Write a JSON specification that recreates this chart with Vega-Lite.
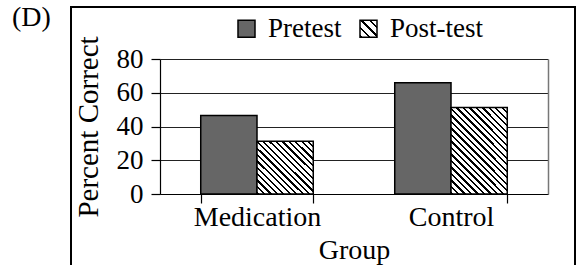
{
  "$schema": "https://vega.github.io/schema/vega-lite/v6.json",
  "width": 504,
  "height": 262,
  "autosize": {"type": "none"},
  "padding": {"left": 71, "top": 7, "right": 2, "bottom": -4},
  "background": "white",
  "config": {
    "font": "Liberation Serif",
    "view": {"stroke": "black", "strokeWidth": 2}
  },
  "title": {
    "text": "(D)",
    "anchor": "start",
    "frame": "group",
    "dx": -59,
    "dy": 47,
    "offset": 0,
    "font": "Liberation Serif",
    "fontSize": 28,
    "fontWeight": "normal",
    "color": "black",
    "baseline": "alphabetic"
  },
  "data": {
    "values": [
      {"group": "Medication", "series": "Pretest", "value": 46.5},
      {"group": "Medication", "series": "Post-test", "value": 31.2},
      {"group": "Control", "series": "Pretest", "value": 66},
      {"group": "Control", "series": "Post-test", "value": 51.2}
    ]
  },
  "layer": [
    {
      "mark": {"type": "bar", "stroke": "black", "strokeWidth": 1.5},
      "encoding": {
        "x": {
          "field": "group",
          "type": "nominal",
          "sort": ["Medication", "Control"],
          "scale": {"range": [89, 477], "paddingInner": 0.42, "paddingOuter": 0.21},
          "axis": {
            "orient": "bottom",
            "offset": -75,
            "tickBand": "extent",
            "tickSize": 9,
            "tickColor": "black",
            "tickWidth": 1.2,
            "domainColor": "black",
            "domainWidth": 1.2,
            "grid": false,
            "labelAngle": 0,
            "labelFont": "Liberation Serif",
            "labelFontSize": 28,
            "labelColor": "black",
            "labelPadding": 0,
            "title": "Group",
            "titleFont": "Liberation Serif",
            "titleFontSize": 28,
            "titleFontWeight": "normal",
            "titleColor": "black",
            "titlePadding": 5
          }
        },
        "xOffset": {
          "field": "series",
          "type": "nominal",
          "sort": ["Pretest", "Post-test"],
          "scale": {"paddingInner": 0, "paddingOuter": 0}
        },
        "y": {
          "field": "value",
          "type": "quantitative",
          "scale": {"domain": [0, 80], "range": [187, 52], "nice": false},
          "axis": {
            "orient": "left",
            "offset": -89,
            "values": [0, 20, 40, 60, 80],
            "grid": true,
            "gridColor": "#222222",
            "gridWidth": 1.2,
            "domainColor": "black",
            "domainWidth": 1.2,
            "tickColor": "black",
            "tickSize": 9,
            "tickWidth": 1.2,
            "labelFont": "Liberation Serif",
            "labelFontSize": 27,
            "labelColor": "black",
            "labelPadding": 8,
            "title": "Percent Correct",
            "titleFont": "Liberation Serif",
            "titleFontSize": 29,
            "titleFontWeight": "normal",
            "titleColor": "black",
            "titlePadding": 13
          }
        },
        "fill": {
          "field": "series",
          "type": "nominal",
          "scale": {
            "domain": ["Pretest", "Post-test"],
            "range": [
              "#666666",
              {"expr": "{gradient: 'linear', x1: 0, y1: 1, x2: 1, y2: 0, stops: [{offset: 0, color: 'black'}, {offset: 0.075, color: 'black'}, {offset: 0.075, color: 'white'}, {offset: 0.25, color: 'white'}, {offset: 0.25, color: 'black'}, {offset: 0.325, color: 'black'}, {offset: 0.325, color: 'white'}, {offset: 0.5, color: 'white'}, {offset: 0.5, color: 'black'}, {offset: 0.575, color: 'black'}, {offset: 0.575, color: 'white'}, {offset: 0.75, color: 'white'}, {offset: 0.75, color: 'black'}, {offset: 0.825, color: 'black'}, {offset: 0.825, color: 'white'}, {offset: 1, color: 'white'}]}"}
            ]
          },
          "condition": [
            {
              "test": "datum.series === 'Post-test' && datum.group === 'Control'",
              "value": {
                "gradient": "linear", "x1": 0, "y1": 1, "x2": 0.758, "y2": -0.158,
                "stops": [
                  {"offset": 0, "color": "black"}, {"offset": 0.0159, "color": "black"}, {"offset": 0.0159, "color": "white"}, {"offset": 0.0455, "color": "white"},
                  {"offset": 0.0455, "color": "black"}, {"offset": 0.0614, "color": "black"}, {"offset": 0.0614, "color": "white"}, {"offset": 0.0909, "color": "white"},
                  {"offset": 0.0909, "color": "black"}, {"offset": 0.1068, "color": "black"}, {"offset": 0.1068, "color": "white"}, {"offset": 0.1364, "color": "white"},
                  {"offset": 0.1364, "color": "black"}, {"offset": 0.1523, "color": "black"}, {"offset": 0.1523, "color": "white"}, {"offset": 0.1818, "color": "white"},
                  {"offset": 0.1818, "color": "black"}, {"offset": 0.1977, "color": "black"}, {"offset": 0.1977, "color": "white"}, {"offset": 0.2273, "color": "white"},
                  {"offset": 0.2273, "color": "black"}, {"offset": 0.2432, "color": "black"}, {"offset": 0.2432, "color": "white"}, {"offset": 0.2727, "color": "white"},
                  {"offset": 0.2727, "color": "black"}, {"offset": 0.2886, "color": "black"}, {"offset": 0.2886, "color": "white"}, {"offset": 0.3182, "color": "white"},
                  {"offset": 0.3182, "color": "black"}, {"offset": 0.3341, "color": "black"}, {"offset": 0.3341, "color": "white"}, {"offset": 0.3636, "color": "white"},
                  {"offset": 0.3636, "color": "black"}, {"offset": 0.3795, "color": "black"}, {"offset": 0.3795, "color": "white"}, {"offset": 0.4091, "color": "white"},
                  {"offset": 0.4091, "color": "black"}, {"offset": 0.4250, "color": "black"}, {"offset": 0.4250, "color": "white"}, {"offset": 0.4545, "color": "white"},
                  {"offset": 0.4545, "color": "black"}, {"offset": 0.4704, "color": "black"}, {"offset": 0.4704, "color": "white"}, {"offset": 0.5000, "color": "white"},
                  {"offset": 0.5000, "color": "black"}, {"offset": 0.5159, "color": "black"}, {"offset": 0.5159, "color": "white"}, {"offset": 0.5455, "color": "white"},
                  {"offset": 0.5455, "color": "black"}, {"offset": 0.5614, "color": "black"}, {"offset": 0.5614, "color": "white"}, {"offset": 0.5909, "color": "white"},
                  {"offset": 0.5909, "color": "black"}, {"offset": 0.6068, "color": "black"}, {"offset": 0.6068, "color": "white"}, {"offset": 0.6364, "color": "white"},
                  {"offset": 0.6364, "color": "black"}, {"offset": 0.6523, "color": "black"}, {"offset": 0.6523, "color": "white"}, {"offset": 0.6818, "color": "white"},
                  {"offset": 0.6818, "color": "black"}, {"offset": 0.6977, "color": "black"}, {"offset": 0.6977, "color": "white"}, {"offset": 0.7273, "color": "white"},
                  {"offset": 0.7273, "color": "black"}, {"offset": 0.7432, "color": "black"}, {"offset": 0.7432, "color": "white"}, {"offset": 0.7727, "color": "white"},
                  {"offset": 0.7727, "color": "black"}, {"offset": 0.7886, "color": "black"}, {"offset": 0.7886, "color": "white"}, {"offset": 0.8182, "color": "white"},
                  {"offset": 0.8182, "color": "black"}, {"offset": 0.8341, "color": "black"}, {"offset": 0.8341, "color": "white"}, {"offset": 0.8636, "color": "white"},
                  {"offset": 0.8636, "color": "black"}, {"offset": 0.8795, "color": "black"}, {"offset": 0.8795, "color": "white"}, {"offset": 0.9091, "color": "white"},
                  {"offset": 0.9091, "color": "black"}, {"offset": 0.9250, "color": "black"}, {"offset": 0.9250, "color": "white"}, {"offset": 0.9545, "color": "white"},
                  {"offset": 0.9545, "color": "black"}, {"offset": 0.9704, "color": "black"}, {"offset": 0.9704, "color": "white"}, {"offset": 1, "color": "white"}
                ]
              }
            },
            {
              "test": "datum.series === 'Post-test'",
              "value": {
                "gradient": "linear", "x1": 0, "y1": 1, "x2": 1.03, "y2": 0.03,
                "stops": [
                  {"offset": 0, "color": "black"}, {"offset": 0.0206, "color": "black"}, {"offset": 0.0206, "color": "white"}, {"offset": 0.0588, "color": "white"},
                  {"offset": 0.0588, "color": "black"}, {"offset": 0.0794, "color": "black"}, {"offset": 0.0794, "color": "white"}, {"offset": 0.1176, "color": "white"},
                  {"offset": 0.1176, "color": "black"}, {"offset": 0.1382, "color": "black"}, {"offset": 0.1382, "color": "white"}, {"offset": 0.1765, "color": "white"},
                  {"offset": 0.1765, "color": "black"}, {"offset": 0.1971, "color": "black"}, {"offset": 0.1971, "color": "white"}, {"offset": 0.2353, "color": "white"},
                  {"offset": 0.2353, "color": "black"}, {"offset": 0.2559, "color": "black"}, {"offset": 0.2559, "color": "white"}, {"offset": 0.2941, "color": "white"},
                  {"offset": 0.2941, "color": "black"}, {"offset": 0.3147, "color": "black"}, {"offset": 0.3147, "color": "white"}, {"offset": 0.3529, "color": "white"},
                  {"offset": 0.3529, "color": "black"}, {"offset": 0.3735, "color": "black"}, {"offset": 0.3735, "color": "white"}, {"offset": 0.4118, "color": "white"},
                  {"offset": 0.4118, "color": "black"}, {"offset": 0.4324, "color": "black"}, {"offset": 0.4324, "color": "white"}, {"offset": 0.4706, "color": "white"},
                  {"offset": 0.4706, "color": "black"}, {"offset": 0.4912, "color": "black"}, {"offset": 0.4912, "color": "white"}, {"offset": 0.5294, "color": "white"},
                  {"offset": 0.5294, "color": "black"}, {"offset": 0.5500, "color": "black"}, {"offset": 0.5500, "color": "white"}, {"offset": 0.5882, "color": "white"},
                  {"offset": 0.5882, "color": "black"}, {"offset": 0.6088, "color": "black"}, {"offset": 0.6088, "color": "white"}, {"offset": 0.6471, "color": "white"},
                  {"offset": 0.6471, "color": "black"}, {"offset": 0.6676, "color": "black"}, {"offset": 0.6676, "color": "white"}, {"offset": 0.7059, "color": "white"},
                  {"offset": 0.7059, "color": "black"}, {"offset": 0.7265, "color": "black"}, {"offset": 0.7265, "color": "white"}, {"offset": 0.7647, "color": "white"},
                  {"offset": 0.7647, "color": "black"}, {"offset": 0.7853, "color": "black"}, {"offset": 0.7853, "color": "white"}, {"offset": 0.8235, "color": "white"},
                  {"offset": 0.8235, "color": "black"}, {"offset": 0.8441, "color": "black"}, {"offset": 0.8441, "color": "white"}, {"offset": 0.8824, "color": "white"},
                  {"offset": 0.8824, "color": "black"}, {"offset": 0.9029, "color": "black"}, {"offset": 0.9029, "color": "white"}, {"offset": 0.9412, "color": "white"},
                  {"offset": 0.9412, "color": "black"}, {"offset": 0.9618, "color": "black"}, {"offset": 0.9618, "color": "white"}, {"offset": 1, "color": "white"}
                ]
              }
            }
          ],
          "legend": {
            "orient": "none",
            "legendX": 162,
            "legendY": 8,
            "direction": "horizontal",
            "title": null,
            "padding": 0,
            "symbolType": "square",
            "symbolSize": 289,
            "symbolStrokeColor": "black",
            "symbolStrokeWidth": 1.5,
            "symbolOpacity": 1,
            "labelFont": "Liberation Serif",
            "labelFontSize": 27,
            "labelColor": "black",
            "labelOffset": 8,
            "columnPadding": 13
          }
        }
      }
    },
    {
      "mark": {"type": "tick", "opacity": 0},
      "encoding": {
        "y": {
          "field": "value",
          "type": "quantitative",
          "axis": {
            "orient": "right",
            "offset": -27,
            "grid": false,
            "labels": false,
            "ticks": false,
            "title": null,
            "domain": true,
            "domainColor": "#777777",
            "domainWidth": 1.5
          }
        }
      }
    }
  ],
  "resolve": {"axis": {"y": "independent"}}
}
